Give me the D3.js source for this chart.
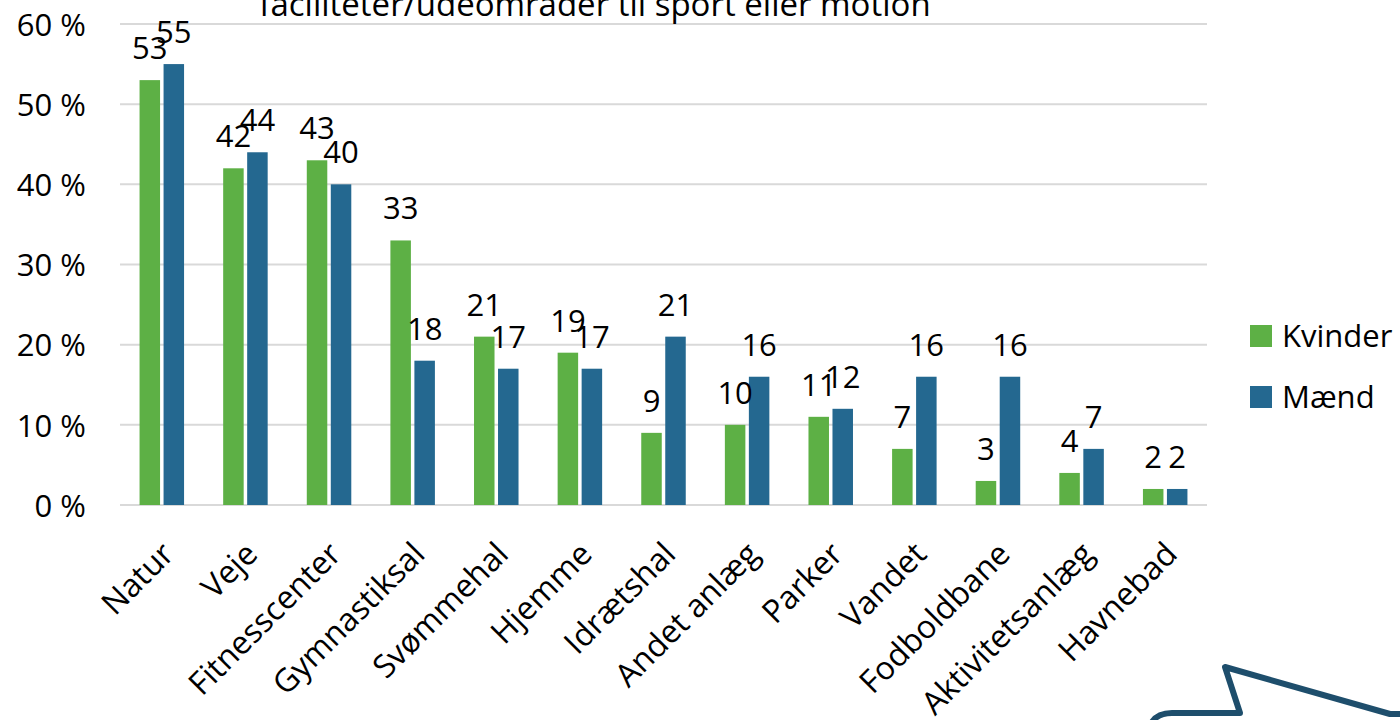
<!DOCTYPE html>
<html>
<head>
<meta charset="utf-8">
<script src="https://cdn.jsdelivr.net/npm/d3@7"></script>
<style>
  body { margin: 0; background: #fff; }
  text { font-family: "Open Sans", sans-serif; fill: #000; }
</style>
</head>
<body>
<div class="chart"></div>
<script>
// data
var categories = ["Natur", "Veje", "Fitnesscenter", "Gymnastiksal", "Svømmehal", "Hjemme",
    "Idrætshal", "Andet anlæg", "Parker", "Vandet", "Fodboldbane", "Aktivitetsanlæg", "Havnebad"];
var kvinder = [53, 42, 43, 33, 21, 19, 9, 10, 11, 7, 3, 4, 2];
var maend = [55, 44, 40, 18, 17, 17, 21, 16, 12, 16, 16, 7, 2];
var seriesNames = ["Kvinder", "Mænd"];
var yTicks = [0, 10, 20, 30, 40, 50, 60];
var title = "faciliteter/udeområder til sport eller motion";

var svgWidth = 1400, svgHeight = 720;
var colors = ["#5db045", "#246890"];

var svg = d3.select(".chart").append("svg")
    .attr("width", svgWidth)
    .attr("height", svgHeight);

var plot = { left: 120, right: 1207, top: 24, bottom: 505 };

var x = d3.scaleBand().domain(categories).range([plot.left, plot.right]);
var y = d3.scaleLinear().domain([0, 60]).range([plot.bottom, plot.top]);

// gridlines
svg.append("g").selectAll("line")
    .data(yTicks)
    .enter().append("line")
    .attr("x1", plot.left).attr("x2", plot.right)
    .attr("y1", d => y(d)).attr("y2", d => y(d))
    .attr("stroke", "#d9d9d9")
    .attr("stroke-width", 2);

// y axis labels
var leftAxis = d3.axisLeft(y).tickValues(yTicks).tickFormat(d => d + " %").tickSize(0).tickPadding(0);
svg.append("g")
    .attr("transform", "translate(86,0)")
    .call(leftAxis)
    .call(g => g.select(".domain").remove())
    .selectAll("text")
    .style("font-family", "Open Sans, sans-serif")
    .style("font-size", "31px")
    .attr("fill", "#000")
    .attr("dy", "0.36em");

// bars
var barW = 20.5, gap = 3.5;
var rows = categories.map((c, i) => ({ cat: c, vals: [kvinder[i], maend[i]] }));

var groups = svg.append("g").selectAll("g")
    .data(rows)
    .enter().append("g");

groups.selectAll("rect")
    .data(d => d.vals.map((v, j) => ({ cat: d.cat, v: v, j: j })))
    .enter().append("rect")
    .attr("x", d => x(d.cat) + x.bandwidth() / 2 + (d.j === 0 ? -barW - gap / 2 : gap / 2))
    .attr("y", d => y(d.v))
    .attr("width", barW)
    .attr("height", d => y(0) - y(d.v))
    .attr("fill", d => colors[d.j]);

// value labels
groups.selectAll("text")
    .data(d => d.vals.map((v, j) => ({ cat: d.cat, v: v, j: j })))
    .enter().append("text")
    .attr("x", d => x(d.cat) + x.bandwidth() / 2 + (d.j === 0 ? -barW / 2 - gap / 2 : barW / 2 + gap / 2))
    .attr("y", d => y(d.v) - 21)
    .attr("text-anchor", "middle")
    .style("font-size", "31px")
    .text(d => d.v);

// category labels
svg.append("g").selectAll("text")
    .data(categories)
    .enter().append("text")
    .attr("transform", d => `translate(${x(d) + x.bandwidth() / 2 + 14}, 556) rotate(-45)`)
    .attr("text-anchor", "end")
    .style("font-size", "32px")
    .text(d => d);

// title (cut at top)
svg.append("text")
    .attr("x", 595)
    .attr("y", 16)
    .attr("text-anchor", "middle")
    .style("font-size", "33px")
    .text(title);

// legend
var legend = svg.append("g").selectAll("g")
    .data(seriesNames)
    .enter().append("g")
    .attr("transform", (d, i) => `translate(1250, ${325 + i * 61})`);

legend.append("rect")
    .attr("width", 22).attr("height", 22)
    .attr("fill", (d, i) => colors[i]);

legend.append("text")
    .attr("x", 32).attr("y", 11)
    .attr("dy", "0.36em")
    .style("font-size", "31px")
    .text(d => d);

// speech bubble outline at bottom right
svg.append("path")
    .attr("d", "M1152,722 Q1158,713 1172,713 L1240,713 L1225,667 L1390,714 L1410,714")
    .attr("fill", "none")
    .attr("stroke", "#1e4e6c")
    .attr("stroke-width", 6)
    .attr("stroke-linejoin", "round");
</script>
</body>
</html>
